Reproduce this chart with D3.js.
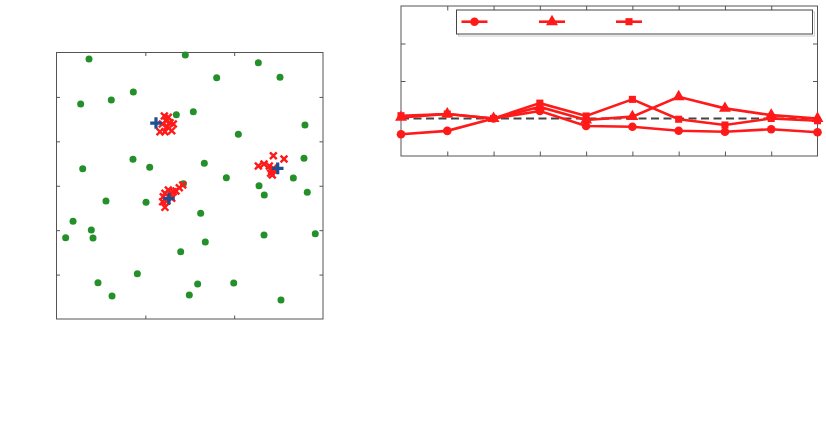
<!DOCTYPE html>
<html><head><meta charset="utf-8">
<script src="https://cdn.jsdelivr.net/npm/d3@7"></script>
<style>body{margin:0;background:#fff}svg{display:block}</style>
</head><body>
<script>
// ---- Left panel data (scatter) ----
const greenX = [36.6,145,227.2,180.3,251.6,86.5,61.7,27.2,134.9,154,204.7,279.7,86.1,104.9,29.5,166.4,278.6,191.2,266.6,142.8,228,233.9,282.3,55.7,100.8,162.3,18.6,39.2,10.3,41.1,167.5,233.6,291.3,139.8,91,46.7,158.9,199.5,62.5,149.5,252.7];
const greenY = [292.7,297.2,288.5,271.7,272,255.5,246.5,242,230,233.4,207.9,218.4,179.7,170.7,169.2,175.2,180.9,159.1,158.7,152.3,150.1,139.6,142.6,132.8,131.3,119,110,100.2,91.5,91.2,86.7,94.6,96.1,75.8,51,40.9,39.4,40.5,25.9,27,21.4];
const redX = [121.4,125.9,123.3,119.1,127.8,131.5,116.5,122.1,129.7,124.7,
              244.1,256.1,227.2,233.6,239.6,242.3,242.9,244.1,241.1,
              122.1,125.9,120.2,128.6,124.1,122.1,131.5,134.5,138.2,142.1,119.5,129.7];
const redY = [228.5,227.1,223.2,219.5,221,219.5,210.8,210.8,212,216.5,
              183.8,180.1,172.2,174.5,172.2,166.9,162.1,169.6,164,
              141.5,145.2,137.7,140.4,132.8,125.7,143.3,144.1,147.8,150.8,132,135.9];
const centerX = [112,126.6,249];
const centerY = [220.6,135.4,169.6];
const leftXTicks = [100,200];
const leftYTicks = [50,100,150,200,250];

// ---- Right panel data (lines) ----
const lineX = [1,2,3,4,5,6,7,8,9,10];
const circleSeries   = [0.58,0.67,1.0,1.2,0.8,0.78,0.675,0.648,0.712,0.632];
const triangleSeries = [1.03,1.12,1.0,1.31,0.96,1.05,1.58,1.27,1.09,1.0];
const squareSeries   = [1.075,1.12,1.0,1.41,1.067,1.51,0.98,0.827,1.0,0.94];
const refValue = 1;
const rightXTicks = [2,3,4,5,6,7,8,9];
const rightYTicks = [1,2,3];

const svg = d3.select("body").append("svg").attr("width",826).attr("height",435);
const frameCol = "#555";
const red = "#ff1a1a";

function frameAxes(g, x, y, xt, yt, len){
  const [x0,x1] = x.range(), [y0,y1] = y.range();
  const fmt = () => "";
  g.append("g").attr("transform",`translate(0,${y0})`).call(d3.axisBottom(x).tickValues(xt).tickSize(-len).tickSizeOuter(0).tickFormat(fmt));
  g.append("g").attr("transform",`translate(0,${y1})`).call(d3.axisTop(x).tickValues(xt).tickSize(-len).tickSizeOuter(0).tickFormat(fmt));
  g.append("g").attr("transform",`translate(${x0},0)`).call(d3.axisLeft(y).tickValues(yt).tickSize(-len).tickSizeOuter(0).tickFormat(fmt));
  g.append("g").attr("transform",`translate(${x1},0)`).call(d3.axisRight(y).tickValues(yt).tickSize(-len).tickSizeOuter(0).tickFormat(fmt));
  g.selectAll(".domain").remove();
  g.selectAll(".tick line").attr("stroke",frameCol);
  g.append("rect").attr("x",x0).attr("y",y1).attr("width",x1-x0).attr("height",y0-y1)
    .attr("fill","none").attr("stroke",frameCol).attr("stroke-width",1);
}

// ---- Left panel ----
const lx = d3.scaleLinear().domain([0,300]).range([56.5,323]);
const ly = d3.scaleLinear().domain([0,300]).range([319,52.5]);
const L = svg.append("g");
frameAxes(L, lx, ly, leftXTicks, leftYTicks, 3.5);
L.selectAll("circle.g").data(greenX).join("circle").attr("class","g")
  .attr("cx",(d,i)=>lx(d)).attr("cy",(d,i)=>ly(greenY[i])).attr("r",3.5).attr("fill","#23902a");
const xs = 3.4;
L.selectAll("path.x").data(redX).join("path").attr("class","x")
  .attr("d",(d,i)=>{const cx=lx(d), cy=ly(redY[i]);
    return `M${cx-xs},${cy-xs}L${cx+xs},${cy+xs}M${cx-xs},${cy+xs}L${cx+xs},${cy-xs}`;})
  .attr("stroke",red).attr("stroke-width",2.4).attr("fill","none");
const ps = 5.8;
L.selectAll("path.p").data(centerX).join("path").attr("class","p")
  .attr("d",(d,i)=>{const cx=lx(d), cy=ly(centerY[i]);
    return `M${cx-ps},${cy}L${cx+ps},${cy}M${cx},${cy-ps}L${cx},${cy+ps}`;})
  .attr("stroke","#1f4f8f").attr("stroke-width",3.2).attr("fill","none");

// ---- Right panel ----
const rx = d3.scaleLinear().domain([1,10]).range([401,817.5]);
const ry = d3.scaleLinear().domain([0,4]).range([156,6]);
const R = svg.append("g");
frameAxes(R, rx, ry, rightXTicks, rightYTicks, 4.5);
R.append("line").attr("x1",rx(1)).attr("x2",rx(10)).attr("y1",ry(refValue)).attr("y2",ry(refValue))
  .attr("stroke","#444").attr("stroke-width",2).attr("stroke-dasharray","8,4.5");
const line = d3.line().x((d,i)=>rx(lineX[i])).y(d=>ry(d));
const sym = {
  circle: d3.symbol().type(d3.symbolCircle).size(58),
  triangle: d3.symbol().type(d3.symbolTriangle).size(62),
  square: d3.symbol().type(d3.symbolSquare).size(50)
};
const series = [["circle",circleSeries],["triangle",triangleSeries],["square",squareSeries]];
series.forEach(([k,vals])=>{
  R.append("path").datum(vals).attr("d",line).attr("fill","none").attr("stroke",red).attr("stroke-width",2.6);
  R.selectAll("path.m"+k).data(vals).join("path").attr("class","m"+k)
    .attr("transform",(d,i)=>`translate(${rx(lineX[i])},${ry(d)})`).attr("d",sym[k]()).attr("fill",red);
});
// legend
const lg = R.append("g");
lg.append("rect").attr("x",457.5).attr("y",11).attr("width",356).attr("height",24)
  .attr("fill","none").attr("stroke","#ccc").attr("stroke-width",1).attr("transform","translate(1,1)");
lg.append("rect").attr("x",456.5).attr("y",10).attr("width",356).attr("height",24)
  .attr("fill","#fff").attr("stroke","#444").attr("stroke-width",1);
const legX = [474.5,552,629];
series.forEach(([k],i)=>{
  lg.append("line").attr("x1",legX[i]-13).attr("x2",legX[i]+13).attr("y1",21.7).attr("y2",21.7)
    .attr("stroke",red).attr("stroke-width",2.6);
  lg.append("path").attr("transform",`translate(${legX[i]},21.7)`).attr("d",sym[k]()).attr("fill",red);
});
</script>
</body></html>
